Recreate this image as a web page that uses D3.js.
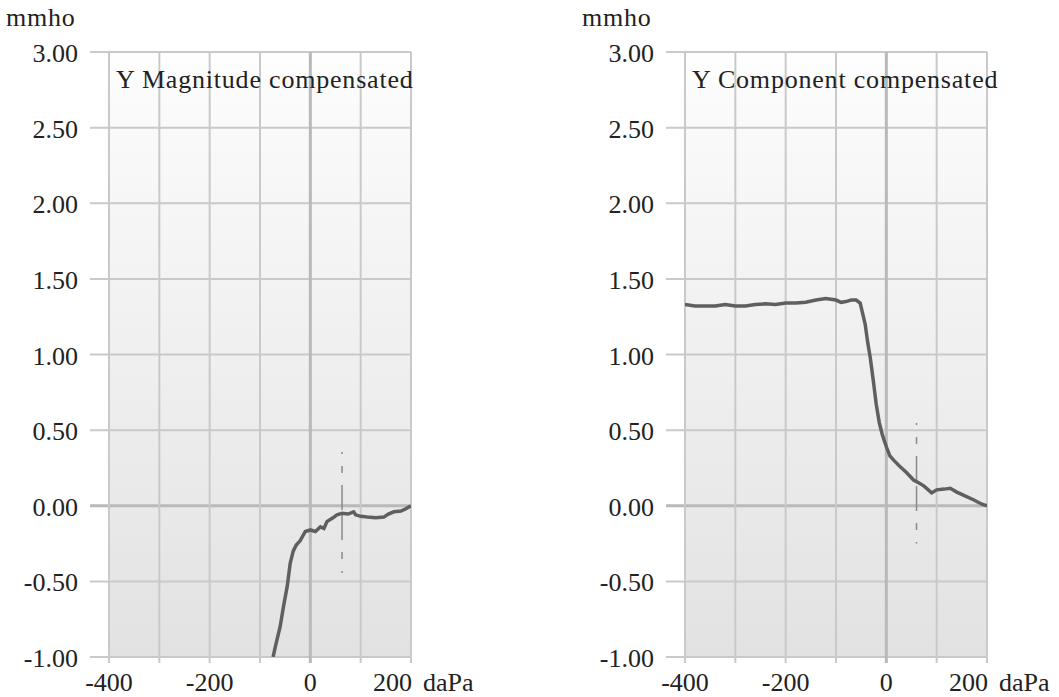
<!DOCTYPE html>
<html>
<head>
<meta charset="utf-8">
<script src="https://cdn.jsdelivr.net/npm/d3@7"></script>
<style>
  body { margin: 0; background: #fff; }
  svg text { font-family: "Liberation Serif", "Times New Roman", serif; fill: #222; }
</style>
</head>
<body>
<div id="chart"></div>
<script>
// tick values
var xLabelTicks = [-400, -200, 0, 200];
var yLabelTicks = [3.0, 2.5, 2.0, 1.5, 1.0, 0.5, 0.0, -0.5, -1.0];

// Y Magnitude compensated (daPa, mmho)
var magPressure = [-74, -68, -60, -53, -46, -40, -34, -28, -20, -10, 0, 10, 20, 27, 33, 45, 53, 63, 75, 86, 90, 100, 113, 130, 146, 155, 166, 180, 190, 200];
var magValue    = [-1.0, -0.91, -0.8, -0.66, -0.535, -0.38, -0.3, -0.26, -0.23, -0.17, -0.16, -0.17, -0.14, -0.15, -0.105, -0.08, -0.06, -0.05, -0.055, -0.04, -0.06, -0.07, -0.075, -0.08, -0.075, -0.055, -0.04, -0.035, -0.02, 0.0];

// Y Component compensated
var compPressure = [-400, -380, -360, -340, -320, -300, -280, -260, -240, -220, -200, -180, -160, -140, -120, -100, -90, -80, -70, -60, -52, -47, -42, -37, -32, -26, -20, -14, -8, 0, 7, 15, 27, 40, 54, 65, 75, 90, 100, 115, 127, 140, 153, 173, 190, 200];
var compValue    = [1.33, 1.32, 1.32, 1.32, 1.33, 1.32, 1.32, 1.33, 1.335, 1.33, 1.34, 1.34, 1.345, 1.36, 1.37, 1.36, 1.345, 1.35, 1.36, 1.36, 1.34, 1.27, 1.2, 1.08, 0.98, 0.83, 0.67, 0.55, 0.47, 0.39, 0.33, 0.3, 0.26, 0.22, 0.17, 0.15, 0.13, 0.085, 0.105, 0.11, 0.115, 0.09, 0.07, 0.04, 0.01, 0.0];

// peak marker (pressure, top, bottom)
var magMarker  = [63, 0.355, -0.445];
var compMarker = [60, 0.547, -0.25];

var panels = [
  { title: "Y Magnitude compensated", x: magPressure, y: magValue, marker: magMarker, left: 109 },
  { title: "Y Component compensated", x: compPressure, y: compValue, marker: compMarker, left: 685 }
];

var W = 1059, H = 697;
var plotTop = 52, plotW = 302, plotH = 605;

var svg = d3.select("#chart").append("svg")
  .attr("width", W)
  .attr("height", H);

var defs = svg.append("defs");
var grad = defs.append("linearGradient")
  .attr("id", "bg")
  .attr("x1", 0).attr("y1", 0).attr("x2", 0).attr("y2", 1);
grad.append("stop").attr("offset", "0").attr("stop-color", "#ffffff");
grad.append("stop").attr("offset", "0.07").attr("stop-color", "#fbfbfb");
grad.append("stop").attr("offset", "1").attr("stop-color", "#e2e2e2");

panels.forEach(function(p, i) {
  var x = d3.scaleLinear().domain([-400, 200]).range([0, plotW]);
  var y = d3.scaleLinear().domain([-1, 3]).range([plotH, 0]);

  defs.append("clipPath").attr("id", "clip" + i)
    .append("rect").attr("width", plotW).attr("height", plotH);

  var g = svg.append("g")
    .attr("transform", "translate(" + p.left + "," + plotTop + ")");

  g.append("rect")
    .attr("width", plotW)
    .attr("height", plotH)
    .attr("fill", "url(#bg)");

  // horizontal grid, extended left as ticks
  g.selectAll("line.hgrid")
    .data(y.ticks(8))
    .enter().append("line")
    .attr("class", "hgrid")
    .attr("x1", -19).attr("x2", plotW)
    .attr("y1", d => y(d)).attr("y2", d => y(d))
    .attr("stroke", d => d === 0 ? "#b9b9b9" : "#c9c9c9")
    .attr("stroke-width", d => d === 0 ? 3 : 2);

  // vertical grid, extended down as ticks
  g.selectAll("line.vgrid")
    .data(x.ticks(6))
    .enter().append("line")
    .attr("class", "vgrid")
    .attr("y1", 0).attr("y2", plotH + 6)
    .attr("x1", d => x(d)).attr("x2", d => x(d))
    .attr("stroke", d => d === 0 ? "#b9b9b9" : "#c9c9c9")
    .attr("stroke-width", d => d === 0 ? 3 : 2);

  // y labels (plain hyphen for negatives)
  g.selectAll("text.ylab")
    .data(yLabelTicks)
    .enter().append("text")
    .attr("class", "ylab")
    .attr("x", -31)
    .attr("y", d => y(d) + 10)
    .attr("text-anchor", "end")
    .attr("font-size", 26)
    .text(d => d.toFixed(2));

  // x labels
  g.selectAll("text.xlab")
    .data(xLabelTicks)
    .enter().append("text")
    .attr("class", "xlab")
    .attr("x", d => d === 200 ? x(d) + 1 : x(d))
    .attr("y", plotH + 34)
    .attr("text-anchor", d => d === 200 ? "end" : "middle")
    .attr("font-size", 26)
    .text(d => String(d));

  g.append("text")
    .attr("x", x(200) + 12)
    .attr("y", plotH + 34)
    .attr("font-size", 26)
    .text("daPa");

  g.append("text")
    .attr("x", -103)
    .attr("y", -26)
    .attr("font-size", 26)
    .attr("letter-spacing", 0.8)
    .text("mmho");

  g.append("text")
    .attr("x", 7)
    .attr("y", 36)
    .attr("font-size", 26)
    .attr("letter-spacing", 0.8)
    .text(p.title);

  // peak marker
  g.append("line")
    .attr("x1", x(p.marker[0])).attr("x2", x(p.marker[0]))
    .attr("y1", y(p.marker[1])).attr("y2", y(p.marker[2]))
    .attr("stroke", "#8a8a8a")
    .attr("stroke-width", 1.5)
    .attr("stroke-dasharray", "2,12,7,12,25,5,25,12,7,12,2");

  var pts = p.x.map((v, k) => [v, p.y[k]]);
  var line = d3.line()
    .x(d => x(d[0]))
    .y(d => y(d[1]));

  g.append("path")
    .datum(pts)
    .attr("clip-path", "url(#clip" + i + ")")
    .attr("d", line)
    .attr("fill", "none")
    .attr("stroke", "#5f5f5f")
    .attr("stroke-width", 3.5)
    .attr("stroke-linejoin", "miter");
});
</script>
</body>
</html>
